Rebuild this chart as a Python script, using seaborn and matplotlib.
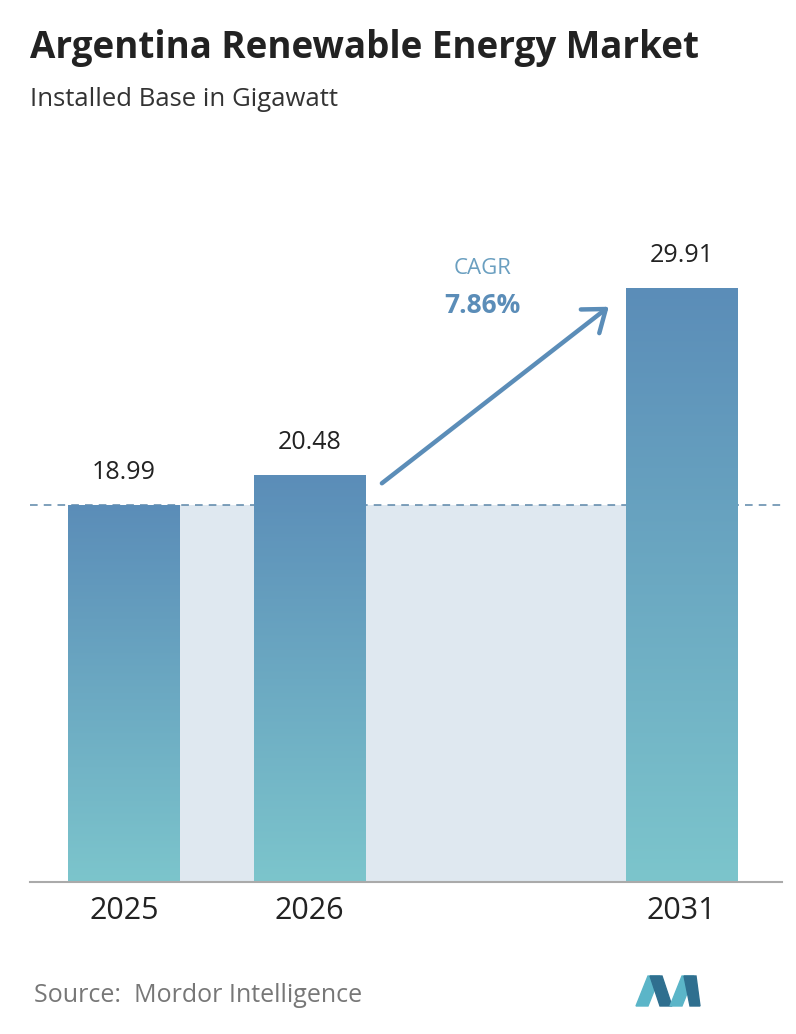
import numpy as np
import matplotlib
matplotlib.use("Agg")
import matplotlib.pyplot as plt
from matplotlib.colors import LinearSegmentedColormap
from matplotlib.patches import Polygon
import seaborn as sns

years = ["2025", "2026", "2031"]
positions = [0, 1, 3]
values = [18.99, 20.48, 29.91]
labels = ["18.99", "20.48", "29.91"]
cagr = "7.86%"

sns.set_theme(style="white")
plt.rcParams["font.family"] = ["Open Sans", "DejaVu Sans"]

fig = plt.figure(figsize=(7.96, 10.34), dpi=100)
ax = fig.add_axes([30 / 796, 1 - 882 / 1034, 752 / 796, 715 / 1034])

sns.barplot(x=positions, y=values, order=[0, 1, 2, 3], width=0.6, ax=ax,
            color="#6a9fc0", native_scale=True)
ax.set_xlim(-0.505, 3.54)
ax.set_ylim(0, 36)

cmap = LinearSegmentedColormap.from_list("g", ["#7cc5cc", "#5b8db8"])
grad = np.linspace(0, 1, 256).reshape(-1, 1)
for p in ax.patches:
    x0 = p.get_x()
    w, h = p.get_width(), p.get_height()
    im = ax.imshow(grad, extent=[x0, x0 + w, 0, h], origin="lower", cmap=cmap,
                   aspect="auto", zorder=2)
    im.set_clip_path(p)
    p.set_facecolor("none")
    p.set_edgecolor("none")

# shaded band under the base value
ax.fill_between([positions[0] + 0.3, positions[2] - 0.3], 0, values[0],
                color="#dfe8f0", zorder=1, lw=0)
ax.axhline(values[0], color="#5b86a8", ls=(0, (5, 4)), lw=1.1, zorder=1)

for x, v, t in zip(positions, values, labels):
    ax.text(x, v + 1.0, t, ha="center", va="bottom", fontsize=18,
            color="#222222", fontweight="medium")

ax.annotate("", xy=(2.62, 29.05), xytext=(1.376, 19.99),
            arrowprops=dict(arrowstyle="->,head_length=1.2,head_width=0.9",
                            color="#5b8db8", lw=3.2))
ax.text(1.93, 30.9, "CAGR", ha="center", va="center", fontsize=16, color="#6a9fc0")
ax.text(1.93, 29.05, cagr, ha="center", va="center", fontsize=19,
        color="#5b8db8", fontweight="bold")

ax.set_xticks(positions)
ax.set_xticklabels(years, fontsize=22, color="#222222")
ax.tick_params(axis="x", length=0, pad=10)
ax.set_yticks([])
for s in ["top", "left", "right"]:
    ax.spines[s].set_visible(False)
ax.spines["bottom"].set_color("#aaaaaa")
ax.spines["bottom"].set_linewidth(1.5)
ax.set_xlabel("")
ax.set_ylabel("")

fig.text(30 / 796, 1 - 48 / 1034, "Argentina Renewable Energy Market", fontsize=26.5,
         fontweight="bold", color="#222222", va="center")
fig.text(30 / 796, 1 - 100 / 1034, "Installed Base in Gigawatt", fontsize=18.5,
         color="#333333", va="center")
fig.text(34 / 796, 1 - 996 / 1034, "Source:  Mordor Intelligence", fontsize=18,
         color="#777777", va="center")

# logo
def fp(pts):
    return [(x / 796, 1 - y / 1034) for x, y in pts]
for pts, c in [
    ([(636, 1006), (648, 976), (660, 976), (648, 1006)], "#5bb5c8"),
    ([(650, 976), (662, 976), (672, 1006), (660, 1006)], "#2f6f8f"),
    ([(670, 1006), (682, 976), (694, 976), (682, 1006)], "#5bb5c8"),
    ([(684, 976), (696, 976), (700, 1006), (690, 1006)], "#2f6f8f"),
]:
    fig.patches.append(Polygon(fp(pts), closed=True, transform=fig.transFigure,
                               color=c))

fig.savefig("out.png", dpi=100)
